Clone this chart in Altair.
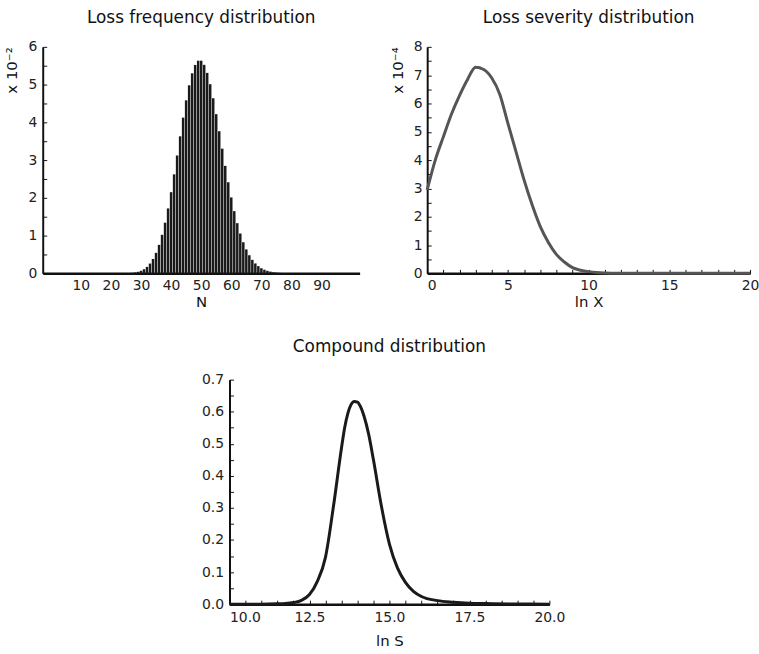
import altair as alt
import pandas as pd

FONT = "DejaVu Sans"

# ---------------- data ----------------
# Loss frequency distribution (values in units of 10^-2)
freq_n = list(range(1, 100))
freq_p = (
    [0.0] * 24
    + [0.004, 0.007, 0.014, 0.024, 0.041, 0.068, 0.109, 0.171, 0.259, 0.380,
       0.543, 0.755, 1.020, 1.342, 1.720, 2.150, 2.622, 3.122, 3.630, 4.125,
       4.583, 4.981, 5.299, 5.520, 5.633, 5.633, 5.523, 5.310, 5.010, 4.639,
       4.217, 3.765, 3.303, 2.847, 2.413, 2.011, 1.648, 1.329, 1.055, 0.824,
       0.634, 0.480, 0.358, 0.263, 0.191, 0.136, 0.096, 0.067, 0.046, 0.031,
       0.021, 0.014, 0.009, 0.006, 0.004]
    + [0.0] * 20
)

# Loss severity distribution (values in units of 10^-4)
sev_x = [0, 0.5, 1, 1.5, 2, 2.5, 3, 3.5, 4, 4.5, 5, 5.5, 6, 6.5, 7, 7.5, 8,
         8.5, 9, 9.5, 10, 10.5, 11, 12, 13, 14, 16, 18, 20]
sev_y = [2.95, 4.0, 4.82, 5.62, 6.28, 6.85, 7.28, 7.2, 6.9, 6.32, 5.3, 4.3,
         3.3, 2.42, 1.66, 1.1, 0.67, 0.4, 0.2, 0.11, 0.06, 0.03, 0.015, 0.004,
         0.001, 0, 0, 0, 0]

# Compound distribution
cmp_x = [10, 11, 11.5, 11.75, 12, 12.25, 12.5, 12.75, 13, 13.25, 13.5, 13.6,
         13.7, 13.8, 13.9, 14.0, 14.1, 14.2, 14.35, 14.5, 14.75, 15, 15.25,
         15.5, 15.75, 16, 16.5, 17, 17.5, 18, 19, 20]
cmp_y = [0, 0, 0.001, 0.002, 0.005, 0.012, 0.03, 0.072, 0.146, 0.305, 0.486,
         0.55, 0.595, 0.622, 0.632, 0.63, 0.615, 0.588, 0.53, 0.45, 0.305,
         0.187, 0.113, 0.068, 0.04, 0.024, 0.011, 0.006, 0.003, 0.002, 0.0005,
         0]

df_freq = pd.DataFrame({"N": freq_n, "P": freq_p})
df_sev = pd.DataFrame({"x": sev_x, "f": sev_y})
df_cmp = pd.DataFrame({"x": cmp_x, "f": cmp_y})

# ---------------- layout sizes ----------------
WA, HA = 319, 228
WB, HB = 325, 228
WC, HC = 322, 226


def title(text, offset):
    return alt.TitleParams(text, frame="group", anchor="middle", font=FONT,
                           fontSize=17, fontWeight="normal", color="#111",
                           offset=offset)


def frange(a, b, step):
    out = []
    v = a
    while v <= b + 1e-9:
        out.append(round(v, 4))
        v += step
    return out


def tick_layer(data, xf, yf, xscale, yscale, xticks, yticks, w, h):
    enc = {
        "y": alt.Y(yf, scale=yscale,
                   axis=alt.Axis(orient="right", offset=-w, values=yticks,
                                 labels=False, domain=False, ticks=True,
                                 tickSize=4, tickWidth=1, title=None,
                                 grid=False)),
    }
    if xticks is not None:
        enc["x"] = alt.X(xf, scale=xscale,
                         axis=alt.Axis(orient="top", offset=-h, values=xticks,
                                       labels=False, domain=False, ticks=True,
                                       tickSize=4, tickWidth=1, title=None,
                                       grid=False))
    return alt.Chart(data).mark_point(opacity=0).encode(**enc)


# ---------------- panel A: frequency ----------------
xa = alt.Scale(domain=[-1, 101], nice=False, zero=False)
ya = alt.Scale(domain=[0, 6], nice=False)
bars = alt.Chart(df_freq).mark_bar(size=2.5, color="#1a1a1a").encode(
    x=alt.X("N:Q", scale=xa,
            axis=alt.Axis(values=list(range(10, 100, 10)), title="N",
                          ticks=False, labelPadding=5, titlePadding=2,
                          domainWidth=2.5)),
    y=alt.Y("P:Q", scale=ya,
            axis=alt.Axis(values=list(range(0, 7)), title="x 10⁻²",
                          titleAnchor="end", ticks=False, labelPadding=6,
                          titlePadding=8, titleFontSize=15)),
)
panel_a = alt.layer(
    bars, tick_layer(df_freq, "N:Q", "P:Q", xa, ya, None, frange(0, 6, 0.5), WA, HA)
).resolve_axis(x="independent", y="independent").properties(
    width=WA, height=HA, title=title("Loss frequency distribution", 13))

# ---------------- panel B: severity ----------------
xb = alt.Scale(domain=[0, 20], nice=False, zero=False)
yb = alt.Scale(domain=[0, 8], nice=False)
line_b = alt.Chart(df_sev).mark_line(color="#555", strokeWidth=3,
                                    interpolate="monotone").encode(
    x=alt.X("x:Q", scale=xb,
            axis=alt.Axis(values=[0, 5, 10, 15, 20], title="ln X",
                          ticks=False, labelPadding=5, titlePadding=2,
                          domainWidth=2.5,
                          labelAlign={"condition": {"test": "datum.value <= 0", "value": "left"},
                                      "value": "center"})),
    y=alt.Y("f:Q", scale=yb,
            axis=alt.Axis(values=list(range(0, 9)), title="x 10⁻⁴",
                          titleAnchor="end", ticks=False, labelPadding=5,
                          titlePadding=8, titleFontSize=15)),
)
panel_b = alt.layer(
    line_b, tick_layer(df_sev, "x:Q", "f:Q", xb, yb, frange(0, 20, 1),
                       frange(0, 8, 0.5), WB, HB)
).resolve_axis(x="independent", y="independent").properties(
    width=WB, height=HB, title=title("Loss severity distribution", 13))

# ---------------- panel C: compound ----------------
xc = alt.Scale(domain=[10, 20], nice=False, zero=False)
yc = alt.Scale(domain=[0, 0.7], nice=False)
line_c = alt.Chart(df_cmp).mark_line(color="#1a1a1a", strokeWidth=3,
                                    interpolate="monotone").encode(
    x=alt.X("x:Q", scale=xc,
            axis=alt.Axis(values=[10, 12.5, 15, 17.5, 20], title="ln S",
                          format=".1f", ticks=False, labelPadding=6,
                          titlePadding=10, domainWidth=2.5,
                          labelAlign={"condition": {"test": "datum.value <= 10", "value": "left"},
                                      "value": "center"})),
    y=alt.Y("f:Q", scale=yc,
            axis=alt.Axis(values=frange(0, 0.7, 0.1), format=".1f", title=None,
                          ticks=False, labelPadding=6)),
)
panel_c = alt.layer(
    line_c, tick_layer(df_cmp, "x:Q", "f:Q", xc, yc, frange(10, 20, 0.5),
                       frange(0, 0.7, 0.05), WC, HC)
).resolve_axis(x="independent", y="independent").properties(
    width=WC, height=HC, title=title("Compound distribution", 17))

spacer = alt.Chart(pd.DataFrame({"v": [0]})).mark_point(opacity=0).properties(
    width=188, height=HC)

top = alt.hconcat(panel_a, panel_b, spacing=68, bounds="flush")
bottom = alt.hconcat(spacer, panel_c, spacing=0, bounds="flush")

chart = alt.vconcat(top, bottom, spacing=HA + 107, bounds="flush").properties(
    padding={"left": 5, "top": 7, "right": 0, "bottom": 0}
).configure_view(stroke=None).configure_axis(
    labelFont=FONT, labelFontSize=14, labelColor="#222",
    titleFont=FONT, titleFontSize=15, titleFontWeight="normal",
    titleColor="#111", domainColor="#111", domainWidth=2,
    tickColor="#111", grid=False,
)

chart.save("out.html", embed_options={"renderer": "svg", "actions": False})
